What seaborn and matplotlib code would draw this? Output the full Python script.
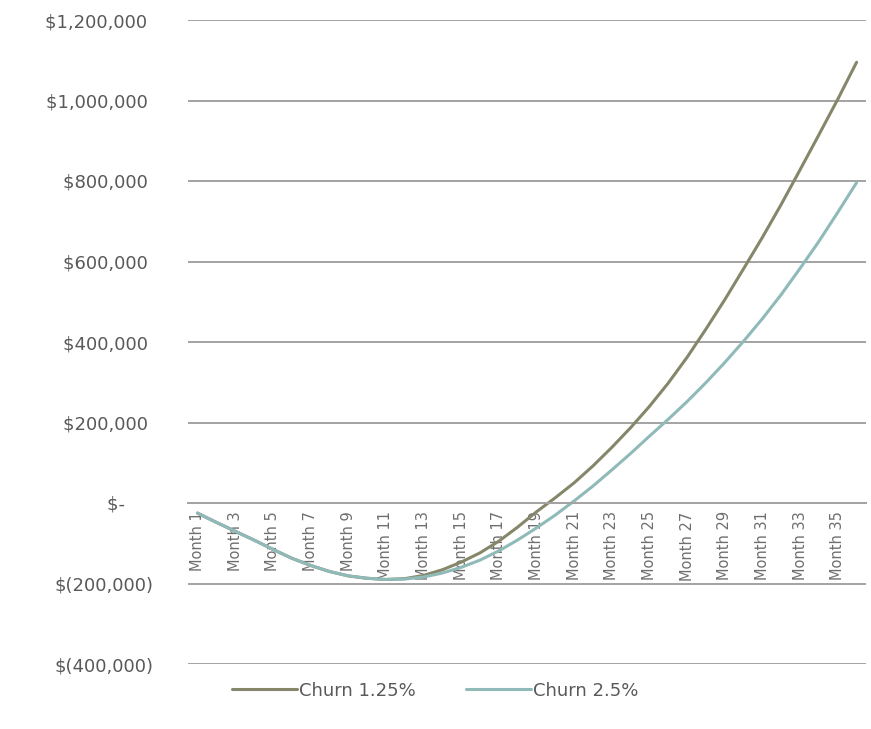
import matplotlib
matplotlib.use("Agg")
import matplotlib.pyplot as plt
import seaborn as sns
import pandas as pd
from matplotlib.ticker import FuncFormatter, FixedLocator

# Cumulative cash position by month for two churn scenarios
months = list(range(1, 37))
month_labels = [f"Month {m}" for m in months]
series_names = ["Churn 1.25%", "Churn 2.5%"]
churn_125 = [-25000, -48000, -70000, -92000, -115000, -137000, -155000, -170000,
             -181000, -187000, -190000, -188000, -180000, -166000, -147000, -124000,
             -95000, -60000, -22000, 13000, 50000, 92000, 138000, 187000,
             240000, 298000, 362000, 432000, 505000, 582000, 660000, 742000,
             828000, 915000, 1003000, 1095000]
churn_25 = [-25000, -48000, -70000, -92000, -115000, -137000, -155000, -170000,
            -181000, -187000, -190000, -189000, -184000, -174000, -160000, -142000,
            -119000, -92000, -62000, -30000, 5000, 42000, 82000, 123000,
            166000, 208000, 252000, 299000, 349000, 402000, 458000, 518000,
            583000, 650000, 722000, 796000]
y_ticks = [-400000, -200000, 0, 200000, 400000, 600000, 800000, 1000000, 1200000]

df = pd.DataFrame({
    "month": months * 2,
    "value": churn_125 + churn_25,
    "scenario": [series_names[0]] * len(months) + [series_names[1]] * len(months),
})

sns.set_theme(style="white")
plt.rcParams["font.family"] = ["DejaVu Sans"]

text_color = "#595959"
cat_color = "#6e6e6e"
grid_color = "#a3a3a3"
palette = {series_names[0]: "#86866a", series_names[1]: "#8fbab8"}

fig = plt.figure(figsize=(8.71, 7.29), dpi=100)
ax = fig.add_axes([188 / 871, 65 / 729, 678 / 871, 644 / 729])

sns.lineplot(data=df, x="month", y="value", hue="scenario", palette=palette,
             linewidth=2.2, ax=ax, legend=False)

ax.set_xlim(0.5, 36.5)
ax.set_ylim(y_ticks[0], y_ticks[-1])

# horizontal gridlines only
ax.yaxis.set_major_locator(FixedLocator(y_ticks))
ax.grid(axis="y", color=grid_color, linewidth=1.4)
ax.grid(axis="x", visible=False)
ax.set_axisbelow(True)
for side in ["left", "right", "top"]:
    ax.spines[side].set_visible(False)

# category axis sits on the zero line
ax.spines["bottom"].set_position(("data", 0))
ax.spines["bottom"].set_color(grid_color)
ax.spines["bottom"].set_linewidth(1.4)
ax.xaxis.set_major_locator(FixedLocator(months[::2]))
ax.set_xticklabels(month_labels[::2], rotation=90, fontsize=10.5, color=cat_color)
ax.tick_params(axis="x", length=0, pad=6)


def accounting(v, pos):
    if v == 0:
        return "$-\u2007\u2007\u2008"
    if v < 0:
        return f"$({-v:,.0f})"
    return f"${v:,.0f}\u2008"


ax.yaxis.set_major_formatter(FuncFormatter(accounting))
ax.tick_params(axis="y", length=0, pad=25, labelsize=13, labelcolor=text_color)

ax.set_xlabel("")
ax.set_ylabel("")

handles = [plt.Line2D([], [], color=palette[n], linewidth=2.2) for n in series_names]
fig.legend(handles, series_names, loc="lower center", bbox_to_anchor=(0.5, 0.018),
           ncol=2, frameon=False, handlelength=3.6, handletextpad=0.1,
           columnspacing=2.8, prop={"size": 13}, labelcolor=text_color)

fig.savefig("out.png", dpi=100, facecolor="white")
